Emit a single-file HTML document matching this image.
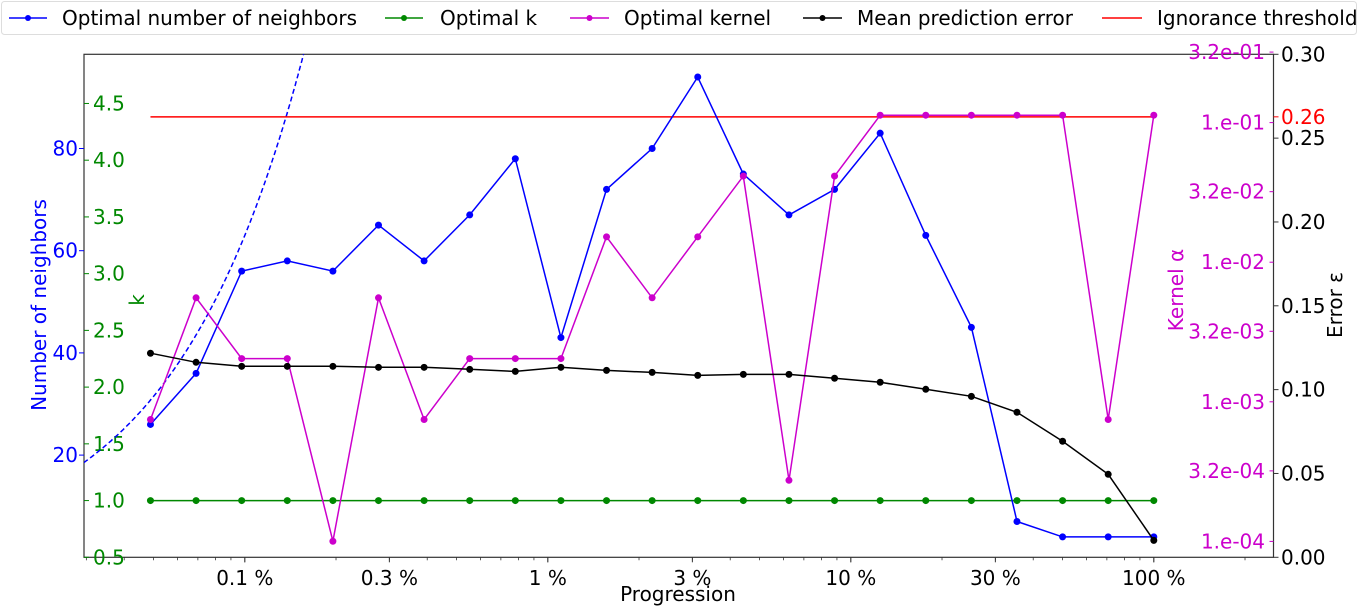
<!DOCTYPE html>
<html><head><meta charset="utf-8"><style>
body{margin:0;background:#fff;}
svg{display:block;font-family:"DejaVu Sans","Liberation Sans",sans-serif;}
</style></head><body>
<svg id="chart" width="1359" height="606" viewBox="0 0 1359 606"></svg>
<script>
const progression = [];  // fractions: 100% / sqrt(2)^i, i=22..0
for (let i = 22; i >= 0; i--) progression.push(Math.pow(2, -i / 2));
const neighbors = [26,36,56,58,56,65,58,67,78,43,72,80,94,75,67,72,83,63,45,7,4,4,4];
const kValues = [1,1,1,1,1,1,1,1,1,1,1,1,1,1,1,1,1,1,1,1,1,1,1];
const kernelAlpha = [0.000747,0.00556,0.00204,0.00204,0.0001003,0.00556,0.000747,0.00204,0.00204,0.00204,0.0152,0.00556,0.0152,0.0414,0.000274,0.0414,0.113,0.113,0.113,0.113,0.113,0.000747,0.113];
const meanError = [0.1217,0.1163,0.1139,0.1139,0.1139,0.1133,0.1133,0.1121,0.1109,0.1133,0.1115,0.1103,0.1085,0.1091,0.1091,0.1068,0.1044,0.1002,0.0960,0.0865,0.0692,0.0495,0.0101];
const ignoranceThreshold = 0.2627;
const xTickVals = [0.001,0.003,0.01,0.03,0.1,0.3,1];
const xTickLabels = ["0.1 %","0.3 %","1 %","3 %","10 %","30 %","100 %"];
const nTicks = [20,40,60,80];
const kTicks = [0.5,1.0,1.5,2.0,2.5,3.0,3.5,4.0,4.5];
const alphaTicks = [1e-4,3.2e-4,1e-3,3.2e-3,1e-2,3.2e-2,1e-1,3.2e-1];
const alphaTickLabels = ["1.e-04","3.2e-04","1.e-03","3.2e-03","1.e-02","3.2e-02","1.e-01","3.2e-01"];
const errTicks = [0,0.05,0.10,0.15,0.20,0.25,0.30];
const dashedSlope = 63000;

const L=84,R=1273.5,T=54.3,B=557.3;
const FS=20;
const X = p => 1153.8 + 303*Math.log10(p);
const Yn = v => B - v*5.11;
const Yk = v => B - (v-0.5)*113.46;
const Ya = v => 122.6 - 139.6*(Math.log10(v)+1);
const Ye = v => B - v/0.30*(B-T);
const svg = document.getElementById('chart');
const NS='http://www.w3.org/2000/svg';
function mk(tag, attrs, parent){const e=document.createElementNS(NS,tag);for(const k in attrs)e.setAttribute(k,attrs[k]);(parent||svg).appendChild(e);return e;}
function txt(s, attrs, parent){const e=mk('text',attrs,parent);e.textContent=s;return e;}

const frame = mk('rect',{x:L,y:T,width:R-L,height:B-T,fill:'none',stroke:'#333','stroke-width':1.2});



const xg = mk('g',{});


for (let d=-4; d<=0; d++) for (let m=1; m<10; m++){
  const v=m*Math.pow(10,d), x=X(v);
  if (x<L||x>R) continue;
  mk('line',{x1:x,x2:x,y1:B,y2:B+(m===1?5:3),stroke:'#333','stroke-width':0.8},xg);
}
xTickVals.forEach((v,i)=>{
  const x=X(v);
  mk('line',{x1:x,x2:x,y1:B,y2:B+5,stroke:'#333','stroke-width':1},xg);
  const t=txt(xTickLabels[i],{x:x,y:585,'text-anchor':'middle','font-size':FS,fill:'#000'},xg);
  
  
});
const xt = txt('Progression',{x:678,y:601,'text-anchor':'middle','font-size':FS,fill:'#000'});



nTicks.forEach(v=>{
  const y=Yn(v);
  mk('line',{x1:L-5,x2:L,y1:y,y2:y,stroke:'#00f'});
  const t=txt(String(v),{x:78,y:y+7,'text-anchor':'end','font-size':FS,fill:'#00f'});
  
  
});
const nt = txt('Number of neighbors',{x:0,y:0,'text-anchor':'middle','font-size':FS,fill:'#00f',transform:'translate(46,305) rotate(-90)'});



kTicks.forEach(v=>{
  const y=Yk(v);
  mk('line',{x1:L,x2:L+5,y1:y,y2:y,stroke:'#080'});
  const t=txt(v.toFixed(1),{x:93,y:y+7,'font-size':FS,fill:'#080'});
  
  
});
const kt = txt('k',{x:0,y:0,'text-anchor':'middle','font-size':FS,fill:'#080',transform:'translate(144,300) rotate(-90)'});



alphaTicks.forEach((v,i)=>{
  const y=Ya(v);
  mk('line',{x1:R-4,x2:R,y1:y,y2:y,stroke:'#c0c'});
  const t=txt(alphaTickLabels[i],{x:1265,y:y+7,'text-anchor':'end','font-size':FS,fill:'#c0c'});
  
  
});
const at = txt('Kernel α',{x:0,y:0,'text-anchor':'middle','font-size':FS,fill:'#c0c',transform:'translate(1183,290) rotate(-90)'});



errTicks.forEach(v=>{
  const y=Ye(v);
  mk('line',{x1:R,x2:R+5,y1:y,y2:y,stroke:'#333'});
  const t=txt(v.toFixed(2),{x:1281,y:y+7,'font-size':FS,fill:'#000'});
  
  
});
{
  const y=Ye(ignoranceThreshold);
  mk('line',{x1:R,x2:R+5,y1:y,y2:y,stroke:'#f00'});
  const t=txt(ignoranceThreshold.toFixed(2),{x:1281,y:y+7,'font-size':FS,fill:'#f00'});
  
  
}
const et = txt('Error ε',{x:0,y:0,'text-anchor':'middle','font-size':FS,fill:'#000',transform:'translate(1342,305) rotate(-90)'});



const defs=mk('defs',{});
const cp=mk('clipPath',{id:'clip'},defs);
mk('rect',{x:L,y:T,width:R-L,height:B-T},cp);

let dpts=[];
for(let i=0;i<=200;i++){const lp=Math.log10(0.000294)+i*(0.9/200);const p=Math.pow(10,lp);dpts.push(X(p).toFixed(1)+','+Yn(dashedSlope*p).toFixed(1));}
const dl=mk('polyline',{points:dpts.join(' '),fill:'none',stroke:'#00f','stroke-width':1.5,'stroke-dasharray':'5,3','clip-path':'url(#clip)'});



const th=mk('line',{x1:X(progression[0]),x2:X(progression[22]),y1:Ye(ignoranceThreshold),y2:Ye(ignoranceThreshold),stroke:'#f00','stroke-width':1.5});



function series(vals, yf, color, name){
  const g=mk('g',{});
  
  
  const pts=vals.map((v,i)=>X(progression[i]).toFixed(1)+','+yf(v).toFixed(1)).join(' ');
  mk('polyline',{points:pts,fill:'none',stroke:color,'stroke-width':1.5},g);
  vals.forEach((v,i)=>{
    const c=mk('circle',{cx:X(progression[i]),cy:yf(v),r:3.5,fill:color},g);
    
    
  });
}
series(kValues,Yk,'#080','optimal-k-series');
series(neighbors,Yn,'#00f','neighbors-series');
series(kernelAlpha,Ya,'#c0c','kernel-series');
series(meanError,Ye,'#000','error-series');

const lg=mk('g',{});


mk('rect',{x:1.5,y:1.5,width:1355,height:33,rx:3,fill:'#fff',stroke:'#ddd','stroke-width':1},lg);
const items=[[9,47,62,'#00f','Optimal number of neighbors',true],[385,423,440,'#080','Optimal k',true],[570,609,624,'#c0c','Optimal kernel',true],[803,842,857,'#000','Mean prediction error',true],[1102,1142,1157,'#f00','Ignorance threshold',false]];
items.forEach(it=>{
  const g=mk('g',{},lg);
  
  
  mk('line',{x1:it[0],x2:it[1],y1:18,y2:18,stroke:it[3],'stroke-width':1.5},g);
  if(it[5]) mk('circle',{cx:(it[0]+it[1])/2,cy:18,r:3,fill:it[3]},g);
  txt(it[4],{x:it[2],y:25,'font-size':FS,fill:'#000'},g);
});
</script>
</body></html>
